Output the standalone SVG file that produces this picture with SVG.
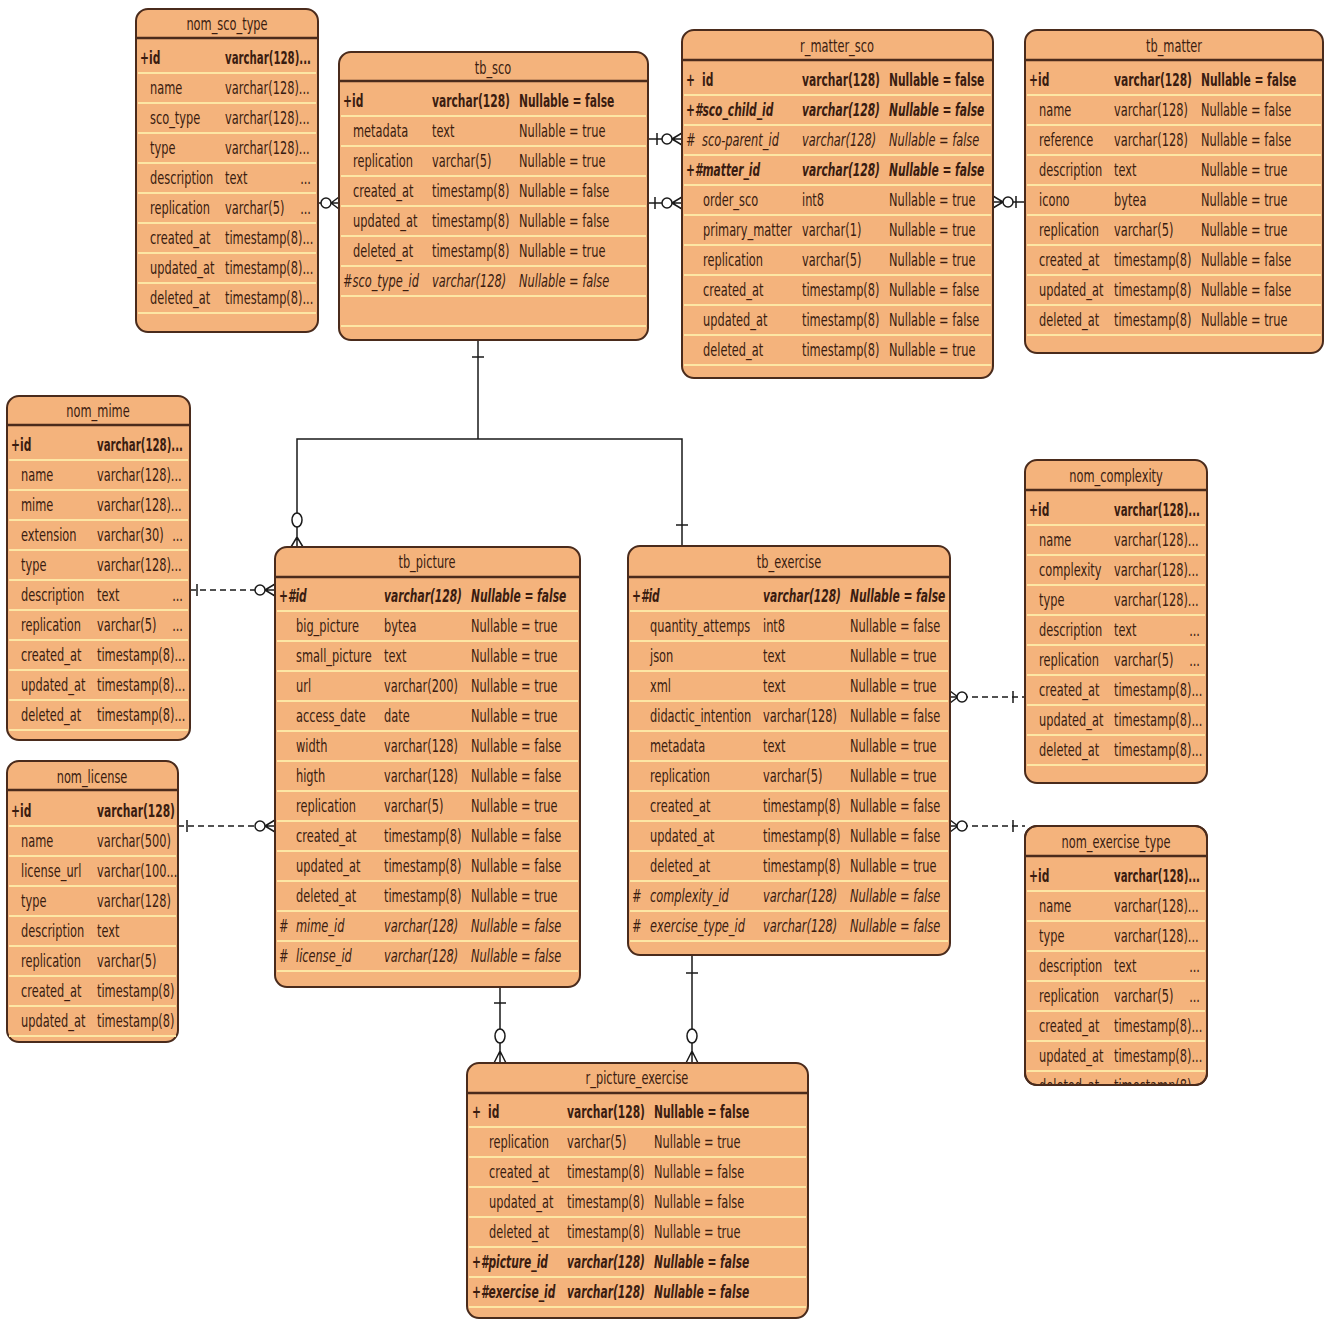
<svg xmlns="http://www.w3.org/2000/svg" width="1325" height="1320" viewBox="0 0 1325 1320">
<style>
.tb{fill:#F4B37C;stroke:#4a2b1c;stroke-width:2}
.hs{stroke:#4a2b1c;stroke-width:2.5;fill:none}
.rs{stroke:#FDE6A4;stroke-width:2;fill:none}
text{font-family:"DejaVu Sans","Liberation Sans",sans-serif;font-size:17px;fill:#3a1c10}
.b{font-weight:bold}
.i{font-style:italic}
.m{text-anchor:middle}
.e{text-anchor:end}
.cn{stroke:#1a1a1a;stroke-width:1.5;fill:none}
.d{stroke-dasharray:6 4}
.ci{fill:#fff;stroke:#1a1a1a;stroke-width:1.5}
</style>
<defs>
<clipPath id="clipET"><rect x="1025" y="826" width="182" height="259" rx="12"/></clipPath>
</defs>
<rect width="1325" height="1320" fill="#fff"/>

<g id="connectors">
<path class="cn" d="M318 203H339M331 203L339 197M331 203L339 209"/>
<circle class="ci" cx="326" cy="203" r="5"/>
<path class="cn" d="M648 139H682M657 133V145M672 139L682 133M672 139L682 145"/>
<circle class="ci" cx="667" cy="139" r="5"/>
<path class="cn" d="M648 203H682M655 197V209M672 203L682 197M672 203L682 209"/>
<circle class="ci" cx="667" cy="203" r="5"/>
<path class="cn" d="M993 202H1025M1003 202L993 196M1003 202L993 208M1016 196V208"/>
<circle class="ci" cx="1008" cy="202" r="5"/>
<path class="cn" d="M478 340V439H297V547M478 439H682V546M472 357H484M676 525H688M297 537L291 547M297 537L303 547"/>
<ellipse class="ci" cx="297" cy="520" rx="5" ry="7"/>
<path class="cn d" d="M190 590H265"/>
<path class="cn" d="M265 590H275M197 584V596M265 590L275 584M265 590L275 596"/>
<circle class="ci" cx="260" cy="590" r="5"/>
<path class="cn d" d="M178 826H265"/>
<path class="cn" d="M265 826H275M187 820V832M265 826L275 820M265 826L275 832"/>
<circle class="ci" cx="260" cy="826" r="5"/>
<path class="cn" d="M950 697H958M958 697L950 691M958 697L950 703M1013 691V703"/>
<path class="cn d" d="M962 697H1025"/>
<circle class="ci" cx="962" cy="697" r="5"/>
<path class="cn" d="M950 826H958M958 826L950 820M958 826L950 832M1013 820V832"/>
<path class="cn d" d="M962 826H1025"/>
<circle class="ci" cx="962" cy="826" r="5"/>
<path class="cn" d="M500 987V1063M494 1003H506M500 1051L494 1063M500 1051L506 1063"/>
<ellipse class="ci" cx="500" cy="1036" rx="5" ry="7"/>
<path class="cn" d="M692 955V1063M686 973H698M692 1051L686 1063M692 1051L698 1063"/>
<ellipse class="ci" cx="692" cy="1036" rx="5" ry="7"/>
</g>

<g id="nom_sco_type">
<rect class="tb" x="136" y="9" width="182" height="323" rx="12"/>
<path class="rs" d="M138 73H316M138 103H316M138 133H316M138 163H316M138 193H316M138 223H316M138 253H316M138 283H316M138 313H316"/>
<path class="hs" d="M137 38H317"/>
<text class="m" transform="matrix(.67 0 0 1 227 30)">nom_sco_type</text>
<text class="b" transform="matrix(.63 0 0 1 140 64)">+id</text>
<text class="b" transform="matrix(.6 0 0 1 225 64)">varchar(128)...</text>
<text transform="matrix(.67 0 0 1 150 94)">name</text>
<text transform="matrix(.67 0 0 1 225 94)">varchar(128)...</text>
<text transform="matrix(.67 0 0 1 150 124)">sco_type</text>
<text transform="matrix(.67 0 0 1 225 124)">varchar(128)...</text>
<text transform="matrix(.67 0 0 1 150 154)">type</text>
<text transform="matrix(.67 0 0 1 225 154)">varchar(128)...</text>
<text transform="matrix(.67 0 0 1 150 184)">description</text>
<text transform="matrix(.67 0 0 1 225 184)">text</text>
<text class="e" transform="matrix(.67 0 0 1 311 184)">...</text>
<text transform="matrix(.67 0 0 1 150 214)">replication</text>
<text transform="matrix(.67 0 0 1 225 214)">varchar(5)</text>
<text class="e" transform="matrix(.67 0 0 1 311 214)">...</text>
<text transform="matrix(.67 0 0 1 150 244)">created_at</text>
<text transform="matrix(.67 0 0 1 225 244)">timestamp(8)...</text>
<text transform="matrix(.67 0 0 1 150 274)">updated_at</text>
<text transform="matrix(.67 0 0 1 225 274)">timestamp(8)...</text>
<text transform="matrix(.67 0 0 1 150 304)">deleted_at</text>
<text transform="matrix(.67 0 0 1 225 304)">timestamp(8)...</text>
</g>

<g id="tb_sco">
<rect class="tb" x="339" y="52" width="309" height="288" rx="12"/>
<path class="rs" d="M341 116H646M341 146H646M341 176H646M341 206H646M341 236H646M341 266H646M341 296H646M341 326H646"/>
<path class="hs" d="M340 81H647"/>
<text class="m" transform="matrix(.67 0 0 1 493 74)">tb_sco</text>
<text class="b" transform="matrix(.63 0 0 1 343 107)">+id</text>
<text class="b" transform="matrix(.63 0 0 1 432 107)">varchar(128)</text>
<text class="b" transform="matrix(.63 0 0 1 519 107)">Nullable = false</text>
<text transform="matrix(.67 0 0 1 353 137)">metadata</text>
<text transform="matrix(.67 0 0 1 432 137)">text</text>
<text transform="matrix(.67 0 0 1 519 137)">Nullable = true</text>
<text transform="matrix(.67 0 0 1 353 167)">replication</text>
<text transform="matrix(.67 0 0 1 432 167)">varchar(5)</text>
<text transform="matrix(.67 0 0 1 519 167)">Nullable = true</text>
<text transform="matrix(.67 0 0 1 353 197)">created_at</text>
<text transform="matrix(.67 0 0 1 432 197)">timestamp(8)</text>
<text transform="matrix(.67 0 0 1 519 197)">Nullable = false</text>
<text transform="matrix(.67 0 0 1 353 227)">updated_at</text>
<text transform="matrix(.67 0 0 1 432 227)">timestamp(8)</text>
<text transform="matrix(.67 0 0 1 519 227)">Nullable = false</text>
<text transform="matrix(.67 0 0 1 353 257)">deleted_at</text>
<text transform="matrix(.67 0 0 1 432 257)">timestamp(8)</text>
<text transform="matrix(.67 0 0 1 519 257)">Nullable = true</text>
<text class="i" transform="matrix(.67 0 0 1 343 287)">#sco_type_id</text>
<text class="i" transform="matrix(.67 0 0 1 432 287)">varchar(128)</text>
<text class="i" transform="matrix(.67 0 0 1 519 287)">Nullable = false</text>
</g>

<g id="r_matter_sco">
<rect class="tb" x="682" y="30" width="311" height="348" rx="12"/>
<path class="rs" d="M684 95H991M684 125H991M684 155H991M684 185H991M684 215H991M684 245H991M684 275H991M684 305H991M684 335H991M684 365H991"/>
<path class="hs" d="M683 60H992"/>
<text class="m" transform="matrix(.67 0 0 1 837 52)">r_matter_sco</text>
<text class="b" transform="matrix(.63 0 0 1 686 86)">+</text>
<text class="b" transform="matrix(.63 0 0 1 702 86)">id</text>
<text class="b" transform="matrix(.63 0 0 1 802 86)">varchar(128)</text>
<text class="b" transform="matrix(.63 0 0 1 889 86)">Nullable = false</text>
<text class="b i" transform="matrix(.63 0 0 1 686 116)">+#sco_child_id</text>
<text class="b i" transform="matrix(.63 0 0 1 802 116)">varchar(128)</text>
<text class="b i" transform="matrix(.63 0 0 1 889 116)">Nullable = false</text>
<text class="i" transform="matrix(.67 0 0 1 686 146)">#</text>
<text class="i" transform="matrix(.67 0 0 1 702 146)">sco-parent_id</text>
<text class="i" transform="matrix(.67 0 0 1 802 146)">varchar(128)</text>
<text class="i" transform="matrix(.67 0 0 1 889 146)">Nullable = false</text>
<text class="b i" transform="matrix(.63 0 0 1 686 176)">+#matter_id</text>
<text class="b i" transform="matrix(.63 0 0 1 802 176)">varchar(128)</text>
<text class="b i" transform="matrix(.63 0 0 1 889 176)">Nullable = false</text>
<text transform="matrix(.67 0 0 1 703 206)">order_sco</text>
<text transform="matrix(.67 0 0 1 802 206)">int8</text>
<text transform="matrix(.67 0 0 1 889 206)">Nullable = true</text>
<text transform="matrix(.67 0 0 1 703 236)">primary_matter</text>
<text transform="matrix(.67 0 0 1 802 236)">varchar(1)</text>
<text transform="matrix(.67 0 0 1 889 236)">Nullable = true</text>
<text transform="matrix(.67 0 0 1 703 266)">replication</text>
<text transform="matrix(.67 0 0 1 802 266)">varchar(5)</text>
<text transform="matrix(.67 0 0 1 889 266)">Nullable = true</text>
<text transform="matrix(.67 0 0 1 703 296)">created_at</text>
<text transform="matrix(.67 0 0 1 802 296)">timestamp(8)</text>
<text transform="matrix(.67 0 0 1 889 296)">Nullable = false</text>
<text transform="matrix(.67 0 0 1 703 326)">updated_at</text>
<text transform="matrix(.67 0 0 1 802 326)">timestamp(8)</text>
<text transform="matrix(.67 0 0 1 889 326)">Nullable = false</text>
<text transform="matrix(.67 0 0 1 703 356)">deleted_at</text>
<text transform="matrix(.67 0 0 1 802 356)">timestamp(8)</text>
<text transform="matrix(.67 0 0 1 889 356)">Nullable = true</text>
</g>

<g id="tb_matter">
<rect class="tb" x="1025" y="30" width="298" height="323" rx="12"/>
<path class="rs" d="M1027 95H1321M1027 125H1321M1027 155H1321M1027 185H1321M1027 215H1321M1027 245H1321M1027 275H1321M1027 305H1321M1027 335H1321"/>
<path class="hs" d="M1026 60H1322"/>
<text class="m" transform="matrix(.67 0 0 1 1174 52)">tb_matter</text>
<text class="b" transform="matrix(.63 0 0 1 1029 86)">+id</text>
<text class="b" transform="matrix(.63 0 0 1 1114 86)">varchar(128)</text>
<text class="b" transform="matrix(.63 0 0 1 1201 86)">Nullable = false</text>
<text transform="matrix(.67 0 0 1 1039 116)">name</text>
<text transform="matrix(.67 0 0 1 1114 116)">varchar(128)</text>
<text transform="matrix(.67 0 0 1 1201 116)">Nullable = false</text>
<text transform="matrix(.67 0 0 1 1039 146)">reference</text>
<text transform="matrix(.67 0 0 1 1114 146)">varchar(128)</text>
<text transform="matrix(.67 0 0 1 1201 146)">Nullable = false</text>
<text transform="matrix(.67 0 0 1 1039 176)">description</text>
<text transform="matrix(.67 0 0 1 1114 176)">text</text>
<text transform="matrix(.67 0 0 1 1201 176)">Nullable = true</text>
<text transform="matrix(.67 0 0 1 1039 206)">icono</text>
<text transform="matrix(.67 0 0 1 1114 206)">bytea</text>
<text transform="matrix(.67 0 0 1 1201 206)">Nullable = true</text>
<text transform="matrix(.67 0 0 1 1039 236)">replication</text>
<text transform="matrix(.67 0 0 1 1114 236)">varchar(5)</text>
<text transform="matrix(.67 0 0 1 1201 236)">Nullable = true</text>
<text transform="matrix(.67 0 0 1 1039 266)">created_at</text>
<text transform="matrix(.67 0 0 1 1114 266)">timestamp(8)</text>
<text transform="matrix(.67 0 0 1 1201 266)">Nullable = false</text>
<text transform="matrix(.67 0 0 1 1039 296)">updated_at</text>
<text transform="matrix(.67 0 0 1 1114 296)">timestamp(8)</text>
<text transform="matrix(.67 0 0 1 1201 296)">Nullable = false</text>
<text transform="matrix(.67 0 0 1 1039 326)">deleted_at</text>
<text transform="matrix(.67 0 0 1 1114 326)">timestamp(8)</text>
<text transform="matrix(.67 0 0 1 1201 326)">Nullable = true</text>
</g>

<g id="nom_mime">
<rect class="tb" x="7" y="396" width="183" height="344" rx="12"/>
<path class="rs" d="M9 460H188M9 490H188M9 520H188M9 550H188M9 580H188M9 610H188M9 640H188M9 670H188M9 700H188M9 730H188"/>
<path class="hs" d="M8 425H189"/>
<text class="m" transform="matrix(.67 0 0 1 98 417)">nom_mime</text>
<text class="b" transform="matrix(.63 0 0 1 11 451)">+id</text>
<text class="b" transform="matrix(.6 0 0 1 97 451)">varchar(128)...</text>
<text transform="matrix(.67 0 0 1 21 481)">name</text>
<text transform="matrix(.67 0 0 1 97 481)">varchar(128)...</text>
<text transform="matrix(.67 0 0 1 21 511)">mime</text>
<text transform="matrix(.67 0 0 1 97 511)">varchar(128)...</text>
<text transform="matrix(.67 0 0 1 21 541)">extension</text>
<text transform="matrix(.67 0 0 1 97 541)">varchar(30)</text>
<text class="e" transform="matrix(.67 0 0 1 183 541)">...</text>
<text transform="matrix(.67 0 0 1 21 571)">type</text>
<text transform="matrix(.67 0 0 1 97 571)">varchar(128)...</text>
<text transform="matrix(.67 0 0 1 21 601)">description</text>
<text transform="matrix(.67 0 0 1 97 601)">text</text>
<text class="e" transform="matrix(.67 0 0 1 183 601)">...</text>
<text transform="matrix(.67 0 0 1 21 631)">replication</text>
<text transform="matrix(.67 0 0 1 97 631)">varchar(5)</text>
<text class="e" transform="matrix(.67 0 0 1 183 631)">...</text>
<text transform="matrix(.67 0 0 1 21 661)">created_at</text>
<text transform="matrix(.67 0 0 1 97 661)">timestamp(8)...</text>
<text transform="matrix(.67 0 0 1 21 691)">updated_at</text>
<text transform="matrix(.67 0 0 1 97 691)">timestamp(8)...</text>
<text transform="matrix(.67 0 0 1 21 721)">deleted_at</text>
<text transform="matrix(.67 0 0 1 97 721)">timestamp(8)...</text>
</g>

<g id="nom_license">
<rect class="tb" x="7" y="761" width="171" height="281" rx="12"/>
<path class="rs" d="M9 826H176M9 856H176M9 886H176M9 916H176M9 946H176M9 976H176M9 1006H176M9 1036H176"/>
<path class="hs" d="M8 790H177"/>
<text class="m" transform="matrix(.67 0 0 1 92 783)">nom_license</text>
<text class="b" transform="matrix(.63 0 0 1 11 817)">+id</text>
<text class="b" transform="matrix(.63 0 0 1 97 817)">varchar(128)</text>
<text transform="matrix(.67 0 0 1 21 847)">name</text>
<text transform="matrix(.67 0 0 1 97 847)">varchar(500)</text>
<text transform="matrix(.67 0 0 1 21 877)">license_url</text>
<text transform="matrix(.67 0 0 1 97 877)">varchar(100...</text>
<text transform="matrix(.67 0 0 1 21 907)">type</text>
<text transform="matrix(.67 0 0 1 97 907)">varchar(128)</text>
<text transform="matrix(.67 0 0 1 21 937)">description</text>
<text transform="matrix(.67 0 0 1 97 937)">text</text>
<text transform="matrix(.67 0 0 1 21 967)">replication</text>
<text transform="matrix(.67 0 0 1 97 967)">varchar(5)</text>
<text transform="matrix(.67 0 0 1 21 997)">created_at</text>
<text transform="matrix(.67 0 0 1 97 997)">timestamp(8)</text>
<text transform="matrix(.67 0 0 1 21 1027)">updated_at</text>
<text transform="matrix(.67 0 0 1 97 1027)">timestamp(8)</text>
</g>

<g id="tb_picture">
<rect class="tb" x="275" y="547" width="305" height="440" rx="12"/>
<path class="rs" d="M277 611H578M277 641H578M277 671H578M277 701H578M277 731H578M277 761H578M277 791H578M277 821H578M277 851H578M277 881H578M277 911H578M277 941H578M277 971H578"/>
<path class="hs" d="M276 577H579"/>
<text class="m" transform="matrix(.67 0 0 1 427 568)">tb_picture</text>
<text class="b i" transform="matrix(.63 0 0 1 279 602)">+#id</text>
<text class="b i" transform="matrix(.63 0 0 1 384 602)">varchar(128)</text>
<text class="b i" transform="matrix(.63 0 0 1 471 602)">Nullable = false</text>
<text transform="matrix(.67 0 0 1 296 632)">big_picture</text>
<text transform="matrix(.67 0 0 1 384 632)">bytea</text>
<text transform="matrix(.67 0 0 1 471 632)">Nullable = true</text>
<text transform="matrix(.67 0 0 1 296 662)">small_picture</text>
<text transform="matrix(.67 0 0 1 384 662)">text</text>
<text transform="matrix(.67 0 0 1 471 662)">Nullable = true</text>
<text transform="matrix(.67 0 0 1 296 692)">url</text>
<text transform="matrix(.67 0 0 1 384 692)">varchar(200)</text>
<text transform="matrix(.67 0 0 1 471 692)">Nullable = true</text>
<text transform="matrix(.67 0 0 1 296 722)">access_date</text>
<text transform="matrix(.67 0 0 1 384 722)">date</text>
<text transform="matrix(.67 0 0 1 471 722)">Nullable = true</text>
<text transform="matrix(.67 0 0 1 296 752)">width</text>
<text transform="matrix(.67 0 0 1 384 752)">varchar(128)</text>
<text transform="matrix(.67 0 0 1 471 752)">Nullable = false</text>
<text transform="matrix(.67 0 0 1 296 782)">higth</text>
<text transform="matrix(.67 0 0 1 384 782)">varchar(128)</text>
<text transform="matrix(.67 0 0 1 471 782)">Nullable = false</text>
<text transform="matrix(.67 0 0 1 296 812)">replication</text>
<text transform="matrix(.67 0 0 1 384 812)">varchar(5)</text>
<text transform="matrix(.67 0 0 1 471 812)">Nullable = true</text>
<text transform="matrix(.67 0 0 1 296 842)">created_at</text>
<text transform="matrix(.67 0 0 1 384 842)">timestamp(8)</text>
<text transform="matrix(.67 0 0 1 471 842)">Nullable = false</text>
<text transform="matrix(.67 0 0 1 296 872)">updated_at</text>
<text transform="matrix(.67 0 0 1 384 872)">timestamp(8)</text>
<text transform="matrix(.67 0 0 1 471 872)">Nullable = false</text>
<text transform="matrix(.67 0 0 1 296 902)">deleted_at</text>
<text transform="matrix(.67 0 0 1 384 902)">timestamp(8)</text>
<text transform="matrix(.67 0 0 1 471 902)">Nullable = true</text>
<text class="i" transform="matrix(.67 0 0 1 279 932)">#</text>
<text class="i" transform="matrix(.67 0 0 1 296 932)">mime_id</text>
<text class="i" transform="matrix(.67 0 0 1 384 932)">varchar(128)</text>
<text class="i" transform="matrix(.67 0 0 1 471 932)">Nullable = false</text>
<text class="i" transform="matrix(.67 0 0 1 279 962)">#</text>
<text class="i" transform="matrix(.67 0 0 1 296 962)">license_id</text>
<text class="i" transform="matrix(.67 0 0 1 384 962)">varchar(128)</text>
<text class="i" transform="matrix(.67 0 0 1 471 962)">Nullable = false</text>
</g>

<g id="tb_exercise">
<rect class="tb" x="628" y="546" width="322" height="409" rx="12"/>
<path class="rs" d="M630 611H948M630 641H948M630 671H948M630 701H948M630 731H948M630 761H948M630 791H948M630 821H948M630 851H948M630 881H948M630 911H948M630 941H948"/>
<path class="hs" d="M629 577H949"/>
<text class="m" transform="matrix(.67 0 0 1 789 568)">tb_exercise</text>
<text class="b i" transform="matrix(.63 0 0 1 632 602)">+#id</text>
<text class="b i" transform="matrix(.63 0 0 1 763 602)">varchar(128)</text>
<text class="b i" transform="matrix(.63 0 0 1 850 602)">Nullable = false</text>
<text transform="matrix(.67 0 0 1 650 632)">quantity_attemps</text>
<text transform="matrix(.67 0 0 1 763 632)">int8</text>
<text transform="matrix(.67 0 0 1 850 632)">Nullable = false</text>
<text transform="matrix(.67 0 0 1 650 662)">json</text>
<text transform="matrix(.67 0 0 1 763 662)">text</text>
<text transform="matrix(.67 0 0 1 850 662)">Nullable = true</text>
<text transform="matrix(.67 0 0 1 650 692)">xml</text>
<text transform="matrix(.67 0 0 1 763 692)">text</text>
<text transform="matrix(.67 0 0 1 850 692)">Nullable = true</text>
<text transform="matrix(.67 0 0 1 650 722)">didactic_intention</text>
<text transform="matrix(.67 0 0 1 763 722)">varchar(128)</text>
<text transform="matrix(.67 0 0 1 850 722)">Nullable = false</text>
<text transform="matrix(.67 0 0 1 650 752)">metadata</text>
<text transform="matrix(.67 0 0 1 763 752)">text</text>
<text transform="matrix(.67 0 0 1 850 752)">Nullable = true</text>
<text transform="matrix(.67 0 0 1 650 782)">replication</text>
<text transform="matrix(.67 0 0 1 763 782)">varchar(5)</text>
<text transform="matrix(.67 0 0 1 850 782)">Nullable = true</text>
<text transform="matrix(.67 0 0 1 650 812)">created_at</text>
<text transform="matrix(.67 0 0 1 763 812)">timestamp(8)</text>
<text transform="matrix(.67 0 0 1 850 812)">Nullable = false</text>
<text transform="matrix(.67 0 0 1 650 842)">updated_at</text>
<text transform="matrix(.67 0 0 1 763 842)">timestamp(8)</text>
<text transform="matrix(.67 0 0 1 850 842)">Nullable = false</text>
<text transform="matrix(.67 0 0 1 650 872)">deleted_at</text>
<text transform="matrix(.67 0 0 1 763 872)">timestamp(8)</text>
<text transform="matrix(.67 0 0 1 850 872)">Nullable = true</text>
<text class="i" transform="matrix(.67 0 0 1 632 902)">#</text>
<text class="i" transform="matrix(.67 0 0 1 650 902)">complexity_id</text>
<text class="i" transform="matrix(.67 0 0 1 763 902)">varchar(128)</text>
<text class="i" transform="matrix(.67 0 0 1 850 902)">Nullable = false</text>
<text class="i" transform="matrix(.67 0 0 1 632 932)">#</text>
<text class="i" transform="matrix(.67 0 0 1 650 932)">exercise_type_id</text>
<text class="i" transform="matrix(.67 0 0 1 763 932)">varchar(128)</text>
<text class="i" transform="matrix(.67 0 0 1 850 932)">Nullable = false</text>
</g>

<g id="nom_complexity">
<rect class="tb" x="1025" y="460" width="182" height="323" rx="12"/>
<path class="rs" d="M1027 525H1205M1027 555H1205M1027 585H1205M1027 615H1205M1027 645H1205M1027 675H1205M1027 705H1205M1027 735H1205M1027 765H1205"/>
<path class="hs" d="M1026 490H1206"/>
<text class="m" transform="matrix(.67 0 0 1 1116 482)">nom_complexity</text>
<text class="b" transform="matrix(.63 0 0 1 1029 516)">+id</text>
<text class="b" transform="matrix(.6 0 0 1 1114 516)">varchar(128)...</text>
<text transform="matrix(.67 0 0 1 1039 546)">name</text>
<text transform="matrix(.67 0 0 1 1114 546)">varchar(128)...</text>
<text transform="matrix(.67 0 0 1 1039 576)">complexity</text>
<text transform="matrix(.67 0 0 1 1114 576)">varchar(128)...</text>
<text transform="matrix(.67 0 0 1 1039 606)">type</text>
<text transform="matrix(.67 0 0 1 1114 606)">varchar(128)...</text>
<text transform="matrix(.67 0 0 1 1039 636)">description</text>
<text transform="matrix(.67 0 0 1 1114 636)">text</text>
<text class="e" transform="matrix(.67 0 0 1 1200 636)">...</text>
<text transform="matrix(.67 0 0 1 1039 666)">replication</text>
<text transform="matrix(.67 0 0 1 1114 666)">varchar(5)</text>
<text class="e" transform="matrix(.67 0 0 1 1200 666)">...</text>
<text transform="matrix(.67 0 0 1 1039 696)">created_at</text>
<text transform="matrix(.67 0 0 1 1114 696)">timestamp(8)...</text>
<text transform="matrix(.67 0 0 1 1039 726)">updated_at</text>
<text transform="matrix(.67 0 0 1 1114 726)">timestamp(8)...</text>
<text transform="matrix(.67 0 0 1 1039 756)">deleted_at</text>
<text transform="matrix(.67 0 0 1 1114 756)">timestamp(8)...</text>
</g>

<g id="nom_exercise_type">
<rect class="tb" x="1025" y="826" width="182" height="259" rx="12"/>
<g clip-path="url(#clipET)">
<path class="rs" d="M1027 891H1205M1027 921H1205M1027 951H1205M1027 981H1205M1027 1011H1205M1027 1041H1205M1027 1071H1205"/>
<path class="hs" d="M1026 856H1206"/>
<text class="m" transform="matrix(.67 0 0 1 1116 848)">nom_exercise_type</text>
<text class="b" transform="matrix(.63 0 0 1 1029 882)">+id</text>
<text class="b" transform="matrix(.6 0 0 1 1114 882)">varchar(128)...</text>
<text transform="matrix(.67 0 0 1 1039 912)">name</text>
<text transform="matrix(.67 0 0 1 1114 912)">varchar(128)...</text>
<text transform="matrix(.67 0 0 1 1039 942)">type</text>
<text transform="matrix(.67 0 0 1 1114 942)">varchar(128)...</text>
<text transform="matrix(.67 0 0 1 1039 972)">description</text>
<text transform="matrix(.67 0 0 1 1114 972)">text</text>
<text class="e" transform="matrix(.67 0 0 1 1200 972)">...</text>
<text transform="matrix(.67 0 0 1 1039 1002)">replication</text>
<text transform="matrix(.67 0 0 1 1114 1002)">varchar(5)</text>
<text class="e" transform="matrix(.67 0 0 1 1200 1002)">...</text>
<text transform="matrix(.67 0 0 1 1039 1032)">created_at</text>
<text transform="matrix(.67 0 0 1 1114 1032)">timestamp(8)...</text>
<text transform="matrix(.67 0 0 1 1039 1062)">updated_at</text>
<text transform="matrix(.67 0 0 1 1114 1062)">timestamp(8)...</text>
<text transform="matrix(.67 0 0 1 1039 1092)">deleted_at</text>
<text transform="matrix(.67 0 0 1 1114 1092)">timestamp(8)...</text>
</g>
<rect x="1025" y="826" width="182" height="259" rx="12" fill="none" stroke="#4a2b1c" stroke-width="2"/>
</g>

<g id="r_picture_exercise">
<rect class="tb" x="467" y="1063" width="341" height="255" rx="12"/>
<path class="rs" d="M469 1127H806M469 1157H806M469 1187H806M469 1217H806M469 1247H806M469 1277H806M469 1307H806"/>
<path class="hs" d="M468 1093H807"/>
<text class="m" transform="matrix(.67 0 0 1 637 1084)">r_picture_exercise</text>
<text class="b" transform="matrix(.63 0 0 1 472 1118)">+</text>
<text class="b" transform="matrix(.63 0 0 1 488 1118)">id</text>
<text class="b" transform="matrix(.63 0 0 1 567 1118)">varchar(128)</text>
<text class="b" transform="matrix(.63 0 0 1 654 1118)">Nullable = false</text>
<text transform="matrix(.67 0 0 1 489 1148)">replication</text>
<text transform="matrix(.67 0 0 1 567 1148)">varchar(5)</text>
<text transform="matrix(.67 0 0 1 654 1148)">Nullable = true</text>
<text transform="matrix(.67 0 0 1 489 1178)">created_at</text>
<text transform="matrix(.67 0 0 1 567 1178)">timestamp(8)</text>
<text transform="matrix(.67 0 0 1 654 1178)">Nullable = false</text>
<text transform="matrix(.67 0 0 1 489 1208)">updated_at</text>
<text transform="matrix(.67 0 0 1 567 1208)">timestamp(8)</text>
<text transform="matrix(.67 0 0 1 654 1208)">Nullable = false</text>
<text transform="matrix(.67 0 0 1 489 1238)">deleted_at</text>
<text transform="matrix(.67 0 0 1 567 1238)">timestamp(8)</text>
<text transform="matrix(.67 0 0 1 654 1238)">Nullable = true</text>
<text class="b i" transform="matrix(.63 0 0 1 472 1268)">+#picture_id</text>
<text class="b i" transform="matrix(.63 0 0 1 567 1268)">varchar(128)</text>
<text class="b i" transform="matrix(.63 0 0 1 654 1268)">Nullable = false</text>
<text class="b i" transform="matrix(.63 0 0 1 472 1298)">+#exercise_id</text>
<text class="b i" transform="matrix(.63 0 0 1 567 1298)">varchar(128)</text>
<text class="b i" transform="matrix(.63 0 0 1 654 1298)">Nullable = false</text>
</g>
</svg>
